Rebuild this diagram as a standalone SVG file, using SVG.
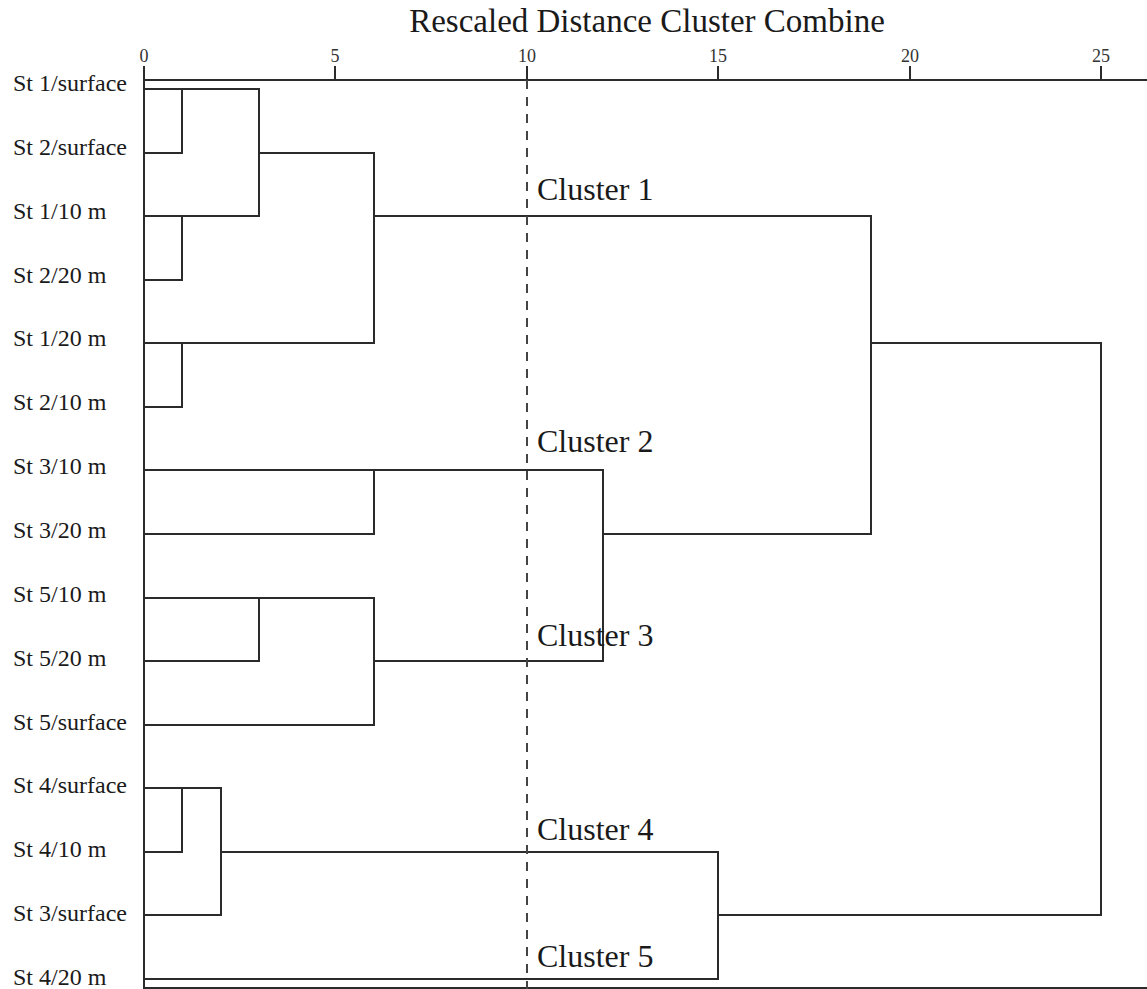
<svg xmlns="http://www.w3.org/2000/svg" width="1147" height="989" viewBox="0 0 1147 989">
<style>
.t{font-family:"Liberation Serif","Times New Roman",serif;fill:#1a1a1a}
.lbl{font-size:24px}
.tick{font-size:18px;text-anchor:middle;fill:#333}
.cl{font-size:32px}
.title{font-size:33px;text-anchor:middle}
.ln{fill:none;stroke:#2b2b2b;stroke-width:2;stroke-linecap:square}
.dash{fill:none;stroke:#444;stroke-width:2;stroke-dasharray:9 8}
</style>
<rect width="1147" height="989" fill="#fff"/>
<text class="t title" x="647" y="32">Rescaled Distance Cluster Combine</text>
<g id="axis">
<path class="ln" d="M144 80H1147M144 67V989M335 67V80M527 67V80M718 67V80M910 67V80M1101 67V80M144 988H1147"/>
<text class="t tick" x="144" y="62">0</text>
<text class="t tick" x="335" y="62">5</text>
<text class="t tick" x="527" y="62">10</text>
<text class="t tick" x="718" y="62">15</text>
<text class="t tick" x="910" y="62">20</text>
<text class="t tick" x="1101" y="62">25</text>
</g>
<g id="leaf1"><text class="t lbl" x="13" y="91">St 1/surface</text></g>
<g id="leaf2"><text class="t lbl" x="13" y="155">St 2/surface</text></g>
<g id="leaf3"><text class="t lbl" x="13" y="219">St 1/10 m</text></g>
<g id="leaf4"><text class="t lbl" x="13" y="283">St 2/20 m</text></g>
<g id="leaf5"><text class="t lbl" x="13" y="346">St 1/20 m</text></g>
<g id="leaf6"><text class="t lbl" x="13" y="410">St 2/10 m</text></g>
<g id="leaf7"><text class="t lbl" x="13" y="474">St 3/10 m</text></g>
<g id="leaf8"><text class="t lbl" x="13" y="538">St 3/20 m</text></g>
<g id="leaf9"><text class="t lbl" x="13" y="602">St 5/10 m</text></g>
<g id="leaf10"><text class="t lbl" x="13" y="666">St 5/20 m</text></g>
<g id="leaf11"><text class="t lbl" x="13" y="730">St 5/surface</text></g>
<g id="leaf12"><text class="t lbl" x="13" y="793">St 4/surface</text></g>
<g id="leaf13"><text class="t lbl" x="13" y="857">St 4/10 m</text></g>
<g id="leaf14"><text class="t lbl" x="13" y="921">St 3/surface</text></g>
<g id="leaf15"><text class="t lbl" x="13" y="985">St 4/20 m</text></g>
<g id="connectors">
<path class="ln" d="M144 89H259M144 153H182M182 89V153M259 89V216M144 216H259M144 280H182M182 216V280M259 153H374M374 153V343M144 343H374M144 407H182M182 343V407M374 216H871M871 216V534"/>
<path class="ln" d="M144 470H603M144 534H374M374 470V534M603 470V661M603 534H871M144 598H374M144 661H259M259 598V661M374 598V725M374 661H603M144 725H374"/>
<path class="ln" d="M144 788H221M144 852H182M182 788V852M221 788V915M221 852H718M144 915H221M144 979H718M718 852V979M718 915H1101M1101 343V915M871 343H1101"/>
</g>
<path id="cutoff" class="dash" d="M527 80V989"/>
<g id="cluster-labels">
<text class="t cl" x="537" y="200">Cluster 1</text>
<text class="t cl" x="537" y="452">Cluster 2</text>
<text class="t cl" x="537" y="646">Cluster 3</text>
<text class="t cl" x="537" y="840">Cluster 4</text>
<text class="t cl" x="537" y="967">Cluster 5</text>
</g>
</svg>
